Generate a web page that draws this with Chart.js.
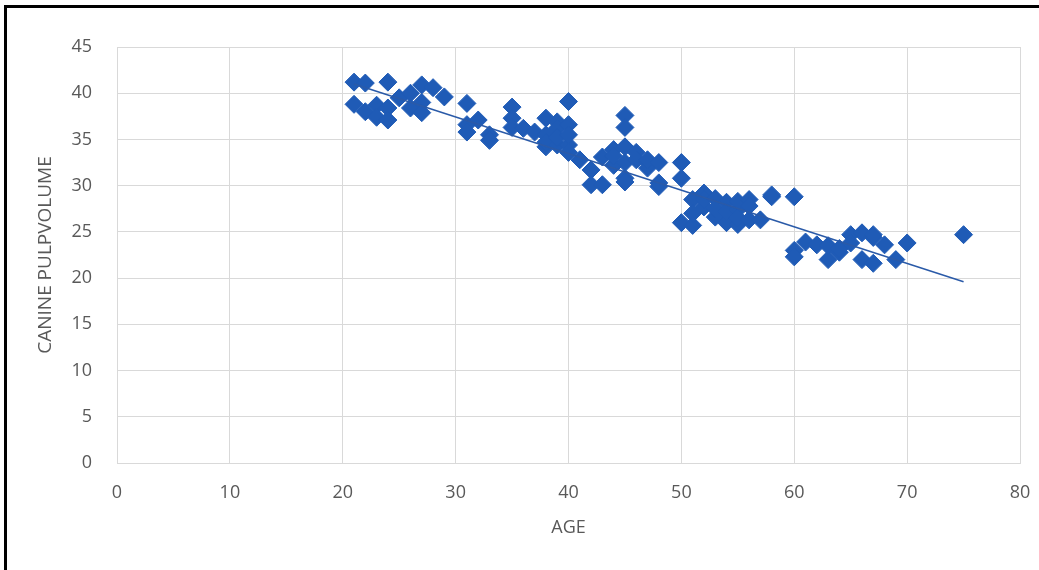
<!DOCTYPE html>
<html>
<head>
<meta charset="utf-8">
<script src="https://cdn.jsdelivr.net/npm/chart.js@4/dist/chart.umd.min.js"></script>
<style>
  html, body { margin: 0; padding: 0; background: #fff; }
  #wrap { position: relative; width: 1039px; height: 570px; overflow: hidden; }
  #frame { position: absolute; left: 4px; top: 5px; width: 1100px; height: 600px;
           border-left: 3px solid #000; border-top: 3px solid #000; pointer-events: none; }
  canvas { position: absolute; left: 0; top: 0; }
</style>
</head>
<body>
<div id="wrap">
  <canvas id="c" width="1039" height="570"></canvas>
  <div id="frame"></div>
</div>
<script>
// Data
const ages = [
  21, 21, 22, 22, 23, 23, 24, 24, 24, 25, 26, 26, 27, 27, 27, 28, 29,
  31, 31, 31, 32, 33, 33, 35, 35, 35, 36, 37, 38, 38, 38, 38, 39, 39, 39, 39, 40, 40, 40, 40, 40,
  41, 42, 42, 43, 43, 44, 44, 44, 45, 45, 45, 45, 45, 45, 46, 46, 47, 47, 47, 48, 48, 48,
  50, 50, 50, 51, 51, 51, 52, 52, 52, 53, 53, 53, 54, 54, 54, 55, 55, 55, 55, 56, 56, 56, 57, 58, 58,
  60, 60, 60, 61, 62, 63, 63, 64, 64, 65, 65, 66, 66, 67, 67, 67, 68, 69, 70, 75
];
const volumes = [
  41.2, 38.8, 41.1, 38.0, 38.7, 37.4, 41.2, 38.4, 37.1, 39.5, 40.0, 38.4, 40.9, 39.0, 37.9, 40.6, 39.6,
  38.9, 36.6, 35.8, 37.1, 35.5, 34.9, 38.5, 37.3, 36.3, 36.2, 35.8, 37.3, 35.5, 34.2, 34.7, 36.9, 34.4, 36.2, 35.2, 39.1, 36.6, 34.4, 33.6, 35.5,
  32.8, 31.7, 30.1, 30.1, 33.1, 33.9, 32.2, 33.2, 37.6, 36.3, 34.2, 30.8, 32.5, 30.4, 33.6, 32.8, 32.6, 31.9, 32.8, 32.5, 29.9, 30.3,
  32.5, 30.8, 26.0, 25.7, 28.5, 27.0, 29.2, 27.7, 28.5, 26.6, 28.6, 27.5, 28.2, 26.0, 27.2, 27.4, 25.8, 28.3, 26.5, 28.5, 26.3, 27.8, 26.3, 28.8, 29.0,
  28.8, 23.0, 22.3, 23.9, 23.6, 22.0, 23.5, 22.8, 23.2, 24.7, 23.8, 24.9, 22.0, 24.4, 21.6, 24.7, 23.6, 22.0, 23.8, 24.7
];
const trendAges = [21, 75];
const trendValues = [41.0, 19.6];
const xTicks = [0, 10, 20, 30, 40, 50, 60, 70, 80];
const yTicks = [0, 5, 10, 15, 20, 25, 30, 35, 40, 45];

const pointColor = '#1f5bb6';
const textColor = '#595959';
const gridColor = '#d9d9d9';
const fontFamily = "'Open Sans', 'Liberation Sans', sans-serif";

const scatterData = ages.map((a, i) => ({ x: a, y: volumes[i] }));
const trendData = trendAges.map((a, i) => ({ x: a, y: trendValues[i] }));

new Chart(document.getElementById('c'), {
  type: 'scatter',
  data: {
    datasets: [
      {
        label: 'Canine pulp volume',
        data: scatterData,
        pointStyle: 'rectRot',
        pointRadius: 9,
        pointHoverRadius: 9,
        backgroundColor: pointColor,
        borderColor: pointColor,
        borderWidth: 1,
        order: 2
      },
      {
        label: 'Trend',
        type: 'line',
        data: trendData,
        borderColor: '#2a5aa8',
        borderWidth: 1.5,
        pointRadius: 0,
        fill: false,
        order: 1
      }
    ]
  },
  options: {
    responsive: false,
    animation: false,
    events: [],
    layout: { padding: { left: 0, right: 19, top: 47, bottom: 0 } },
    plugins: { legend: { display: false }, tooltip: { enabled: false } },
    scales: {
      x: {
        type: 'linear',
        min: 0, max: 80,
        afterBuildTicks: (s) => { s.ticks = xTicks.map(v => ({ value: v })); },
        afterFit: (s) => { s.height = 107; s.paddingRight = 0; s.paddingLeft = 0; },
        grid: { color: gridColor, lineWidth: 1, drawTicks: false },
        border: { display: true, color: gridColor },
        ticks: { color: textColor, padding: 19, font: { family: fontFamily, size: 18 } },
        title: { display: true, text: 'AGE', color: textColor, padding: { top: 0, bottom: 31 },
                 font: { family: fontFamily, size: 18 } }
      },
      y: {
        type: 'linear',
        min: 0, max: 45,
        afterBuildTicks: (s) => { s.ticks = yTicks.map(v => ({ value: v })); },
        afterFit: (s) => { s.width = 117; },
        grid: { color: gridColor, lineWidth: 1, drawTicks: false },
        border: { display: true, color: gridColor },
        ticks: { color: textColor, padding: 25, font: { family: fontFamily, size: 18 } },
        title: { display: true, text: 'CANINE PULPVOLUME', color: textColor, padding: { top: 34, bottom: 0 },
                 font: { family: fontFamily, size: 19 } }
      }
    }
  }
});
</script>
</body>
</html>
